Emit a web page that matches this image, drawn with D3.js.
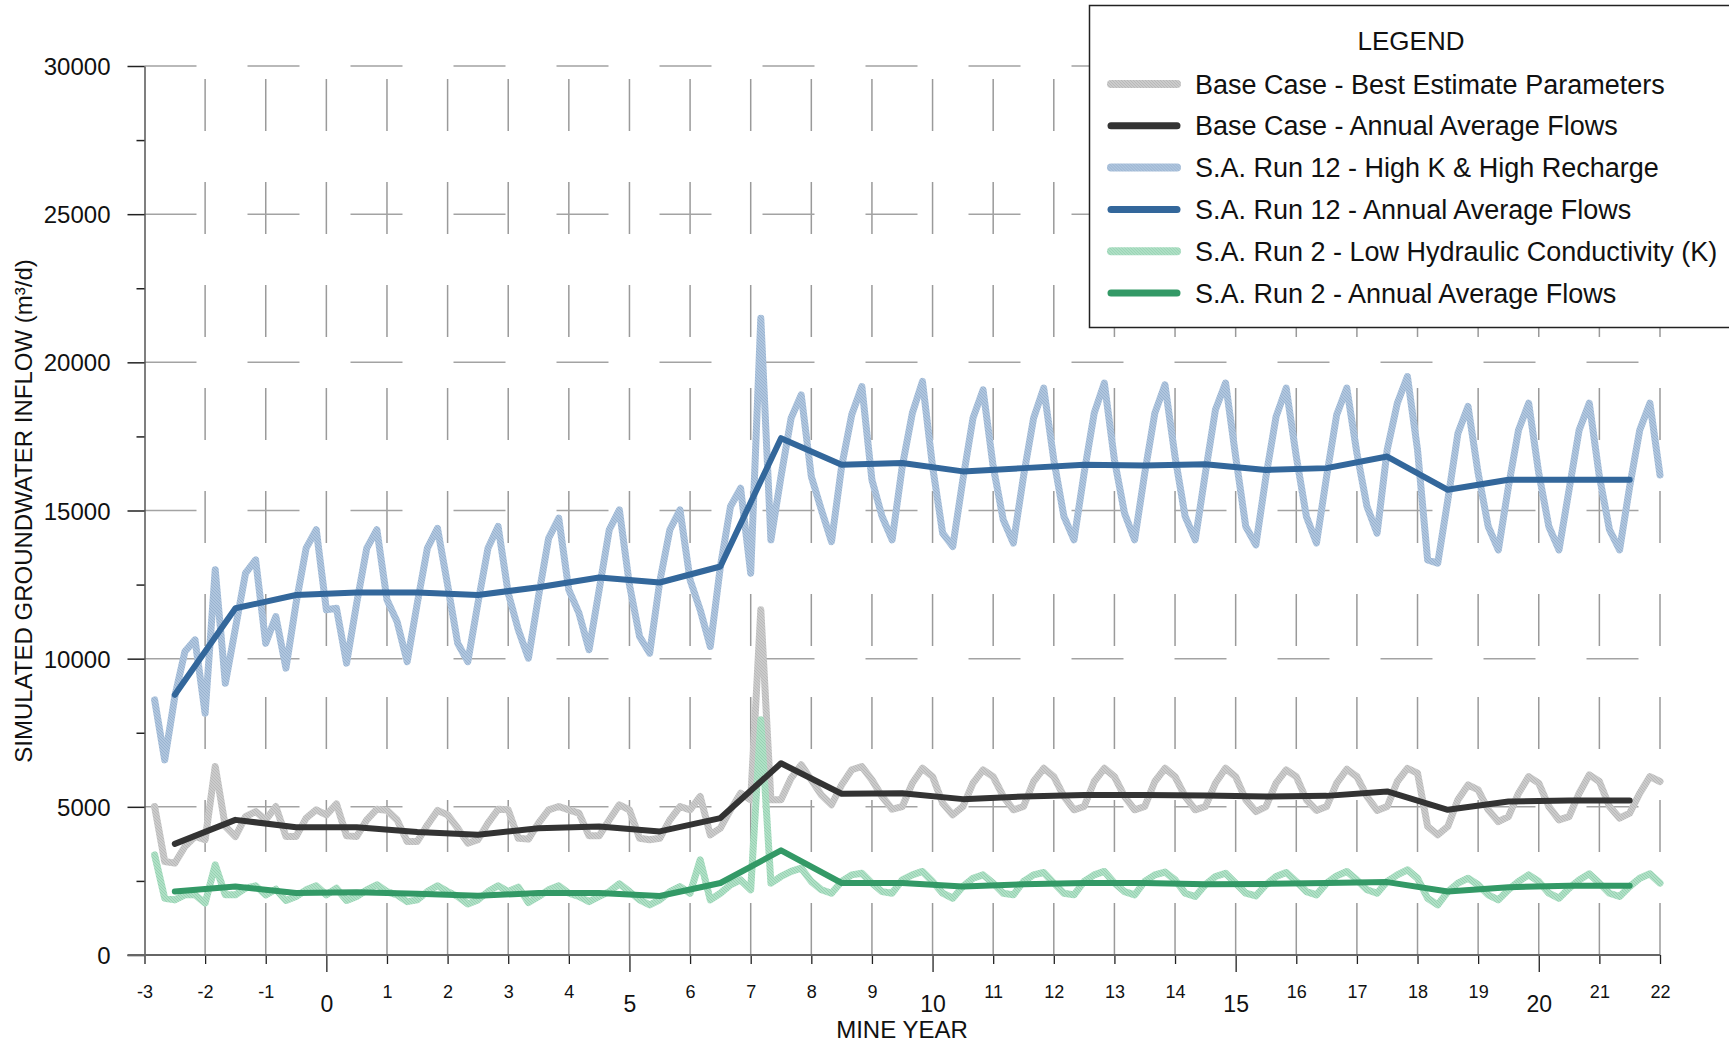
<!DOCTYPE html>
<html>
<head>
<meta charset="utf-8">
<script src="https://cdn.jsdelivr.net/npm/d3@7"></script>
<style>
  body { margin: 0; background: #fff; }
  svg text { font-family: "Liberation Sans", Arial, sans-serif; fill: #111; }
</style>
</head>
<body>
<div id="chart"></div>
<script>
// mine years on the x axis
const yearTicks = d3.range(-3, 23);
// model output is every two months, annual averages sit mid-year
const sampleYears = d3.range(1, 151).map(k => -3 + k / 6);
const midYears = d3.range(-2.5, 22, 1);

const baseCase = [
  5010, 3155, 3100, 3660, 4000, 3890, 6360, 4340, 4000, 4670,
  4840, 4560, 5010, 4000, 4000, 4620, 4900, 4730, 5100, 4020,
  4000, 4560, 4920, 4880, 4560, 3830, 3830, 4390, 4880, 4730,
  4280, 3775, 3890, 4450, 4920, 4900, 3940, 3910, 4450, 4900,
  5010, 4900, 4790, 4020, 4020, 4560, 5070, 4900, 3940, 3890,
  3940, 4560, 5010, 4900, 5350, 4055, 4280, 4900, 5460, 5240,
  11650, 5240, 5240, 5970, 6420, 5910, 5400, 5070, 5740, 6250,
  6360, 5910, 5350, 4920, 5010, 5800, 6300, 6020, 5120, 4730,
  5010, 5800, 6250, 6020, 5350, 4900, 5010, 5855, 6300, 6020,
  5350, 4900, 5010, 5855, 6300, 6020, 5350, 4900, 5010, 5855,
  6300, 6020, 5350, 4900, 5010, 5800, 6300, 6020, 5240, 4840,
  5010, 5800, 6250, 6020, 5240, 4880, 5010, 5800, 6270, 6020,
  5350, 4880, 5010, 5855, 6300, 6140, 4340, 4055, 4340, 5240,
  5740, 5570, 4900, 4500, 4670, 5460, 6020, 5800, 5010, 4560,
  4670, 5460, 6080, 5855, 5010, 4620, 4790, 5460, 6020, 5855
];
const baseAvg = [
  3750, 4560, 4310, 4310, 4150, 4060, 4280, 4340, 4170, 4620,
  6470, 5440, 5460, 5260, 5350, 5400, 5400, 5380, 5350, 5370,
  5520, 4900, 5180, 5210, 5210
];

const run12 = [
  8610, 6585, 8720, 10240, 10635, 8160, 13000, 9170, 11030, 12885,
  13335, 10520, 11420, 9680, 11870, 13730, 14350, 11650, 11700, 9850,
  11870, 13730, 14350, 11985, 11250, 9900, 11870, 13730, 14400, 12490,
  10520, 9900, 11870, 13730, 14460, 12210, 10970, 10015, 12100, 14065,
  14740, 12320, 11535, 10300, 12320, 14350, 15020, 12490, 10750, 10185,
  12600, 14350, 15020, 12660, 11650, 10410, 13110, 15135, 15750, 12885,
  21490, 14010, 16150, 18115, 18900, 16150, 15020, 13950, 16485, 18230,
  19185, 16035, 14800, 14010, 16485, 18285, 19355, 16485, 14235, 13785,
  16035, 18115, 19070, 16485, 14685, 13900, 16150, 18115, 19130, 16710,
  14800, 14010, 16260, 18285, 19300, 16710, 14910, 14010, 16260, 18285,
  19240, 16820, 14800, 14010, 16260, 18400, 19300, 16820, 14460, 13840,
  16150, 18170, 19130, 16820, 14800, 13900, 16150, 18230, 19130, 16935,
  15135, 14235, 17050, 18620, 19520, 17050, 13335, 13220, 15360, 17610,
  18510, 16260, 14460, 13670, 15810, 17720, 18620, 16260, 14460, 13670,
  15700, 17720, 18620, 16150, 14350, 13670, 15810, 17720, 18620, 16200
];
const run12Avg = [
  8780, 11700, 12150, 12230, 12230, 12150, 12410, 12740, 12570, 13110,
  17440, 16540, 16600, 16320, 16430, 16540, 16520, 16560, 16370, 16430,
  16820, 15700, 16040, 16040, 16040
];

const run2 = [
  3380, 1915, 1860, 2030, 2030, 1750, 3040, 2030, 2030, 2255,
  2335, 2030, 2220, 1840, 1975, 2200, 2335, 2030, 2255, 1840,
  1975, 2200, 2370, 2140, 2030, 1800, 1860, 2140, 2335, 2140,
  1975, 1725, 1860, 2140, 2335, 2140, 2290, 1770, 1975, 2200,
  2335, 2085, 1975, 1800, 1975, 2140, 2400, 2140, 1860, 1690,
  1860, 2140, 2310, 2085, 3210, 1860, 2085, 2370, 2535, 2200,
  7935, 2425, 2650, 2820, 2930, 2480, 2200, 2085, 2480, 2705,
  2760, 2425, 2140, 2085, 2535, 2705, 2820, 2480, 2085, 1915,
  2310, 2590, 2705, 2425, 2085, 2030, 2480, 2705, 2785, 2425,
  2085, 2030, 2480, 2705, 2820, 2425, 2140, 2030, 2480, 2705,
  2800, 2535, 2085, 1975, 2370, 2650, 2760, 2425, 2085, 1995,
  2370, 2650, 2785, 2480, 2140, 2030, 2425, 2670, 2820, 2535,
  2200, 2085, 2480, 2705, 2875, 2590, 1915, 1690, 2140, 2425,
  2590, 2370, 2030, 1860, 2200, 2480, 2705, 2480, 2085, 1915,
  2255, 2535, 2740, 2425, 2085, 1975, 2310, 2590, 2740, 2425
];
const run2Avg = [
  2140, 2310, 2090, 2120, 2070, 2000, 2090, 2090, 1990, 2430,
  3530, 2430, 2430, 2310, 2390, 2430, 2430, 2390, 2400, 2430,
  2460, 2140, 2290, 2340, 2340
];

const legendLabels = [
  "Base Case - Best Estimate Parameters",
  "Base Case - Annual Average Flows",
  "S.A. Run 12 - High K & High Recharge",
  "S.A. Run 12 - Annual Average Flows",
  "S.A. Run 2 - Low Hydraulic Conductivity (K)",
  "S.A. Run 2 - Annual Average Flows"
];

const width = 1729, height = 1044;
const plot = { left: 144.5, right: 1660, top: 66, bottom: 955 };
const narrow = "'Liberation Sans Narrow', 'Liberation Sans', sans-serif";

const x = d3.scaleLinear().domain([-3, 22]).range([plot.left, plot.right]);
const y = d3.scaleLinear().domain([0, 30000]).range([plot.bottom, plot.top]);

const svg = d3.select("#chart").append("svg")
  .attr("width", width)
  .attr("height", height);

const defs = svg.append("defs");

// light series are drawn with a fine hatched texture
function hatch(id, base, dark) {
  let p = defs.append("pattern")
    .attr("id", id)
    .attr("patternUnits", "userSpaceOnUse")
    .attr("width", 3)
    .attr("height", 3);
  p.append("rect").attr("width", 3).attr("height", 3).attr("fill", base);
  p.append("rect").attr("x", 0).attr("y", 0).attr("width", 1).attr("height", 1).attr("fill", dark);
  p.append("rect").attr("x", 1).attr("y", 1).attr("width", 1).attr("height", 1).attr("fill", dark);
  p.append("rect").attr("x", 2).attr("y", 2).attr("width", 1).attr("height", 1).attr("fill", dark);
}
hatch("hatchGray", "#cbcbcb", "#b9b9b9");
hatch("hatchBlue", "#b0c6de", "#98b2d0");
hatch("hatchGreen", "#b0e0c6", "#96d2b2");

// dashed grid
svg.append("g").selectAll("line")
  .data(yearTicks.slice(1))
  .enter().append("line")
  .attr("x1", d => x(d)).attr("x2", d => x(d))
  .attr("y1", y(0)).attr("y2", y(30000))
  .attr("stroke", "#9a9a9a")
  .attr("stroke-width", 1.5)
  .attr("stroke-dasharray", "52,51");

svg.append("g").selectAll("line")
  .data(d3.range(5000, 30001, 5000))
  .enter().append("line")
  .attr("x1", x(-3)).attr("x2", x(22))
  .attr("y1", d => y(d)).attr("y2", d => y(d))
  .attr("stroke", "#a3a3a3")
  .attr("stroke-width", 1.5)
  .attr("stroke-dasharray", "52,51");

// y axis
let yAxis = svg.append("g")
  .attr("transform", "translate(" + plot.left + ",0)")
  .call(d3.axisLeft(y)
    .tickValues(d3.range(0, 30001, 2500))
    .tickSizeOuter(0)
    .tickFormat(d => d % 5000 == 0 ? d : ""));
yAxis.select(".domain").attr("stroke", "#555").attr("stroke-width", 1.5);
yAxis.selectAll(".tick line")
  .attr("stroke", "#222")
  .attr("stroke-width", 1.5)
  .attr("x2", d => d % 5000 == 0 ? -17 : -8);
yAxis.selectAll(".tick text")
  .attr("x", -34)
  .attr("dy", "0.36em")
  .style("font-size", "24px");

// x axis
let xAxis = svg.append("g")
  .attr("transform", "translate(0," + plot.bottom + ")")
  .call(d3.axisBottom(x).tickValues(yearTicks).tickSizeOuter(0).tickFormat(d => String(d)));
xAxis.select(".domain").remove();
xAxis.append("line")
  .attr("x1", plot.left - 17).attr("x2", plot.right)
  .attr("stroke", "#666").attr("stroke-width", 2);
xAxis.selectAll(".tick line")
  .attr("stroke", "#222")
  .attr("stroke-width", 1.3)
  .attr("y2", d => d % 5 == 0 && d != -3 ? 17 : 9);
xAxis.selectAll(".tick text")
  .attr("dy", null)
  .attr("y", d => d % 5 == 0 && d != -3 ? 57 : 43)
  .style("font-family", narrow)
  .style("font-size", d => d % 5 == 0 && d != -3 ? "23px" : "18px");

svg.append("text")
  .attr("x", 902).attr("y", 1038)
  .attr("text-anchor", "middle")
  .style("font-family", narrow)
  .style("font-size", "24px")
  .text("MINE YEAR");

svg.append("text")
  .attr("transform", "translate(32,511) rotate(-90)")
  .attr("text-anchor", "middle")
  .style("font-size", "24px")
  .text("SIMULATED GROUNDWATER INFLOW (m³/d)");

// series
let line = d3.line()
  .x(d => x(d[0]))
  .y(d => y(d[1]));

const series = [
  { years: sampleYears, values: baseCase, stroke: "url(#hatchGray)", w: 7 },
  { years: sampleYears, values: run12, stroke: "url(#hatchBlue)", w: 7 },
  { years: sampleYears, values: run2, stroke: "url(#hatchGreen)", w: 7 },
  { years: midYears, values: baseAvg, stroke: "#333333", w: 6 },
  { years: midYears, values: run12Avg, stroke: "#33679b", w: 6 },
  { years: midYears, values: run2Avg, stroke: "#339966", w: 6 }
];

svg.append("g").selectAll("path")
  .data(series)
  .enter().append("path")
  .attr("d", s => line(s.years.map((t, i) => [t, s.values[i]])))
  .attr("fill", "none")
  .attr("stroke", s => s.stroke)
  .attr("stroke-width", s => s.w)
  .attr("stroke-linejoin", "round")
  .attr("stroke-linecap", "round");

// legend
let legend = svg.append("g");
legend.append("rect")
  .attr("x", 1089.5).attr("y", 5.5)
  .attr("width", 700).attr("height", 322)
  .attr("fill", "#fff")
  .attr("stroke", "#222")
  .attr("stroke-width", 1.5);
legend.append("text")
  .attr("x", 1411).attr("y", 50)
  .attr("text-anchor", "middle")
  .style("font-size", "26px")
  .text("LEGEND");

const legendStrokes = ["url(#hatchGray)", "#333333", "url(#hatchBlue)", "#33679b", "url(#hatchGreen)", "#339966"];
let item = legend.selectAll(".item")
  .data(legendLabels)
  .enter().append("g")
  .attr("class", "item")
  .attr("transform", (d, i) => "translate(0," + (84 + i * 41.8) + ")");
item.append("line")
  .attr("x1", 1111).attr("x2", 1177)
  .attr("stroke", (d, i) => legendStrokes[i])
  .attr("stroke-width", (d, i) => i % 2 == 0 ? 8 : 7)
  .attr("stroke-linecap", "round");
item.append("text")
  .attr("x", 1195).attr("y", 9.5)
  .style("font-size", "27px")
  .text(d => d);
</script>
</body>
</html>
